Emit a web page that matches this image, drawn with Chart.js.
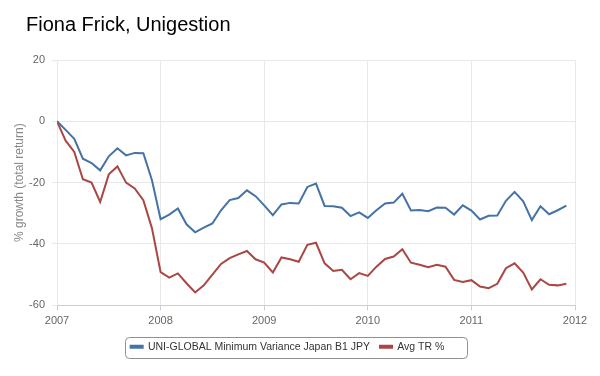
<!DOCTYPE html>
<html>
<head>
<meta charset="utf-8">
<script src="https://cdn.jsdelivr.net/npm/chart.js@4.4.1/dist/chart.umd.min.js"></script>
<style>
  html, body { margin: 0; padding: 0; background: #fff; }
  #wrap { position: relative; width: 600px; height: 376px; }
  #title {
    position: absolute; left: 26px; top: 14px;
    font: 20px "Liberation Sans", Arial, sans-serif; line-height: 20px; color: #000;
  }
  canvas { position: absolute; left: 0; top: 0; }
</style>
</head>
<body>
<div id="wrap">
  <canvas id="chart" width="600" height="376"></canvas>
  <div id="title">Fiona Frick, Unigestion</div>
</div>
<script>
// monthly values, Jan 2007 .. Dec 2011
const years = ['2007', '2008', '2009', '2010', '2011', '2012'];
const fundName = 'UNI-GLOBAL Minimum Variance Japan B1 JPY';
const avgName = 'Avg TR %';
const fundReturns = [
  0, -2.8, -5.7, -12.2, -13.6, -16, -11.4, -8.8, -11.1, -10.3, -10.4, -19.2,
  -31.9, -30.4, -28.4, -33.6, -36.2, -34.7, -33.3, -29, -25.7, -25, -22.5, -24.4,
  -27.4, -30.6, -27.1, -26.6, -26.8, -21.4, -20.3, -27.6, -27.7, -28.2, -30.9, -29.7,
  -31.5, -29, -26.8, -26.5, -23.6, -29.1, -28.9, -29.3, -28.1, -28.2, -30.4, -27.4,
  -29.1, -32, -30.8, -30.7, -25.9, -23, -26.1, -32.2, -27.7, -30.3, -29, -27.5
];
const avgReturns = [
  0, -6.3, -10, -18.9, -20, -26.3, -17.3, -14.7, -20, -21.9, -25.7, -34.9,
  -49.2, -51, -49.6, -52.8, -55.8, -53.5, -50, -46.5, -44.6, -43.4, -42.3, -45,
  -46.1, -49.3, -44.4, -45, -45.8, -40.3, -39.6, -46.3, -48.8, -48.4, -51.5, -49.5,
  -50.4, -47.4, -44.9, -44.1, -41.7, -46.1, -46.8, -47.6, -46.8, -47.4, -51.7, -52.4,
  -51.8, -53.9, -54.4, -53, -47.9, -46.3, -49.3, -54.8, -51.5, -53.3, -53.5, -53
];

const toPoints = arr => arr.map((v, i) => ({ x: i, y: v }));

// border round the legend, like the original
const legendBox = {
  id: 'legendBox',
  afterDraw(chart) {
    const boxes = chart.legend && chart.legend.legendHitBoxes;
    if (!boxes || !boxes.length) return;
    const l = Math.min(...boxes.map(b => b.left)) - 6;
    const r = Math.max(...boxes.map(b => b.left + b.width)) + 22;
    const t = Math.min(...boxes.map(b => b.top)) - 5;
    const b = Math.max(...boxes.map(b => b.top + b.height)) + 5;
    const ctx = chart.ctx;
    ctx.save();
    ctx.strokeStyle = '#909090';
    ctx.lineWidth = 1;
    ctx.beginPath();
    ctx.roundRect(Math.round(l) + 0.5, Math.round(t) + 0.5, Math.round(r - l), Math.round(b - t), 4);
    ctx.stroke();
    ctx.restore();
  }
};

const font = '"Liberation Sans", Arial, sans-serif';

new Chart(document.getElementById('chart'), {
  type: 'line',
  data: {
    datasets: [
      { label: fundName, data: toPoints(fundReturns), borderColor: '#4572A7', backgroundColor: '#4572A7', borderWidth: 2, pointRadius: 0, fill: false },
      { label: avgName, data: toPoints(avgReturns), borderColor: '#AA4643', backgroundColor: '#AA4643', borderWidth: 2, pointRadius: 0, fill: false }
    ]
  },
  options: {
    responsive: false,
    animation: false,
    layout: { padding: { top: 60, right: 25, bottom: 14, left: 0 } },
    plugins: {
      title: { display: false },
      tooltip: { enabled: false },
      legend: {
        position: 'bottom',
        labels: { font: { family: font, size: 10.5 }, color: '#333', boxWidth: 12, boxHeight: 2, padding: 10 }
      }
    },
    scales: {
      x: {
        type: 'linear', min: 0, max: 60,
        afterBuildTicks(scale) { scale.ticks = years.map((y, i) => ({ value: i * 12 })); },
        ticks: { callback: v => years[v / 12], color: '#666', font: { family: font, size: 11 }, padding: 4, maxRotation: 0 },
        grid: { color: '#e8e8e8', tickLength: 5, tickColor: '#C0D0E0' },
        border: { color: '#C0D0E0', width: 1 }
      },
      y: {
        min: -60, max: 20,
        afterFit(scale) { scale.width = 57; },
        ticks: { stepSize: 20, color: '#666', font: { family: font, size: 11 }, padding: 7 },
        grid: { color: '#e8e8e8', tickLength: 5 },
        border: { display: false },
        title: { display: true, text: '% growth (total return)', color: '#888', font: { family: font, size: 12 }, padding: { top: 12, bottom: 4 } }
      }
    }
  },
  plugins: [legendBox]
});
</script>
</body>
</html>
